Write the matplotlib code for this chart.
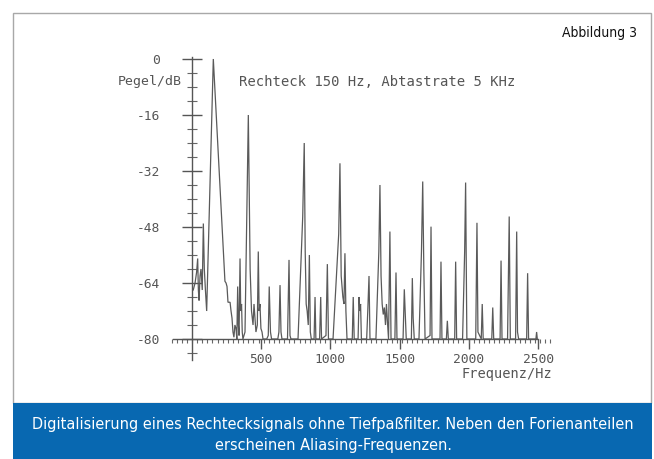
import matplotlib
matplotlib.use("Agg")
import matplotlib.pyplot as plt
from matplotlib.patches import Rectangle
from matplotlib.ticker import FixedLocator, MultipleLocator

# spectrum trace (vertices of the plotted polyline)
freq_hz = [9, 22, 33, 41, 46, 51, 58, 65, 74, 82, 89, 97, 106, 154,
           238, 246, 253, 260, 275, 282, 289, 296, 303, 310, 318, 324,
           330, 335, 340, 347, 352, 358, 363, 368, 383, 407, 420, 430,
           441, 448, 455, 462, 472, 479, 485, 491, 498, 506, 513, 540,
           551, 558, 563, 567, 575, 620, 628, 636, 643, 650, 690, 701,
           708, 715, 766, 800, 811, 818, 825, 832, 840, 848, 855, 862,
           882, 889, 895, 922, 930, 936, 968, 978, 986, 1019, 1060, 1069,
           1078, 1090, 1098, 1105, 1112, 1120, 1158, 1165, 1172, 1200,
           1207, 1212, 1218, 1224, 1262, 1270, 1279, 1286, 1329, 1350,
           1358, 1366, 1374, 1382, 1390, 1398, 1405, 1412, 1420, 1430,
           1438, 1466, 1474, 1481, 1525, 1534, 1540, 1548, 1585, 1592,
           1598, 1606, 1640, 1658, 1667, 1675, 1684, 1720, 1727, 1734,
           1792, 1799, 1806, 1838, 1845, 1852, 1898, 1905, 1912, 1955,
           1970, 1977, 1986, 2050, 2059, 2066, 2090, 2097, 2104, 2166,
           2173, 2180, 2226, 2233, 2240, 2280, 2292, 2300, 2338, 2346,
           2352, 2360, 2418, 2425, 2432, 2485, 2490, 2495]
level_db = [-66, -64, -61, -57, -66, -69, -62, -60, -66, -47, -60, -66, -72, 0,
            -63.5, -64, -65, -69.5, -69.5, -72, -74, -78, -79.5, -76, -77, -80,
            -65, -76, -79, -57, -72, -70, -78, -80, -78, -16, -60, -72,
            -76, -70, -74, -78, -76, -55, -72, -70, -77, -78, -80, -80,
            -79, -65, -72, -78, -80, -80, -78, -64.6, -78, -80, -80, -57.4,
            -79, -80, -80, -45, -24, -55, -70, -72, -76, -56, -78, -80,
            -80, -68, -80, -80, -68, -80, -79, -58.6, -80, -80, -50, -29.8,
            -62, -68, -70, -55.5, -72, -80, -80, -68, -80, -80,
            -68, -72, -70, -80, -80, -72, -62, -80, -80, -55,
            -36, -62, -70, -73, -71, -76, -70, -75, -80, -49.3,
            -80, -80, -61, -80, -80, -65.8, -72, -80, -80, -62.6,
            -74, -80, -80, -55, -35, -60, -80, -79, -47.9, -80,
            -80, -57.9, -80, -80, -74.8, -80, -80, -57.9, -80, -80,
            -55, -35.3, -80, -80, -46.8, -78, -80, -70, -80, -80,
            -71, -80, -80, -57.6, -80, -80, -45, -80, -80, -49.3,
            -78, -80, -80, -61.2, -80, -80, -78, -80]

x_ticks = [500, 1000, 1500, 2000, 2500]
x_tick_labels = ["500", "1000", "1500", "2000", "2500"]
y_ticks = [-80, -64, -48, -32, -16, 0]
y_tick_labels = ["-80", "-64", "-48", "-32", "-16", "0"]

plot_title = "Rechteck 150 Hz, Abtastrate 5 KHz"
y_title = "Pegel/dB"
x_title = "Frequenz/Hz"
figure_tag = "Abbildung 3"
caption = ("Digitalisierung eines Rechtecksignals ohne Tiefpaßfilter. Neben den Forienanteilen\n"
           "erscheinen Aliasing-Frequenzen.")

W, H = 654, 459
trace_col = "#5a5a5a"
text_col = "#555555"
plotter_font = "DejaVu Sans Mono"


def fx(px):
    return px / W


def fy(py):
    return 1 - py / H


fig = plt.figure(figsize=(W / 100, H / 100), dpi=100)
fig.patch.set_facecolor("white")

# frame and caption box
fig.patches.append(Rectangle((fx(12.5), fy(403)), fx(650.5) - fx(12.5), fy(12.5) - fy(403),
                             transform=fig.transFigure, fill=False, edgecolor="#a8a8a8", lw=1.0))
fig.patches.append(Rectangle((fx(13), 0), fx(652) - fx(13), fy(403),
                             transform=fig.transFigure, facecolor="#0868b1", edgecolor="none"))

# axes placed so that 0 Hz -> x=192px, 2500 Hz -> x=538px, 0 dB -> y=59px, -80 dB -> y=339px
xmin, xmax = -160, 2600
ymin, ymax = -87, 2
sx = (538 - 192) / 2500
sy = (339 - 59) / 80
left = 192 + xmin * sx
right = 192 + xmax * sx
top = 59 - ymax * sy
bottom = 59 - ymin * sy
ax = fig.add_axes([fx(left), fy(bottom), (right - left) / W, (bottom - top) / H])
ax.set_xlim(xmin, xmax)
ax.set_ylim(ymin, ymax)
ax.patch.set_alpha(0)

ax.plot(freq_hz, level_db, color=trace_col, lw=0.9, solid_joinstyle="miter")

for s in ["top", "right"]:
    ax.spines[s].set_visible(False)
ax.spines["left"].set_position(("data", 0))
ax.spines["bottom"].set_position(("data", -80))
ax.spines["left"].set_bounds(-86, 0.5)
ax.spines["bottom"].set_bounds(-140, 2500)
for s in ["left", "bottom"]:
    ax.spines[s].set_color("#555555")
    ax.spines[s].set_linewidth(1.0)

ax.xaxis.set_major_locator(FixedLocator(x_ticks))
ax.set_xticklabels(x_tick_labels)
ax.xaxis.set_minor_locator(MultipleLocator(37))
ax.yaxis.set_major_locator(FixedLocator(y_ticks))
ax.set_yticklabels(y_tick_labels)
ax.yaxis.set_minor_locator(MultipleLocator(4))

ax.tick_params(axis="x", which="major", direction="out", length=7, width=1, color="#555555",
               pad=3, labelsize=9.3, labelcolor=text_col)
ax.tick_params(axis="x", which="minor", direction="out", length=3, width=0.8, color="#666666")
ax.tick_params(axis="y", which="major", direction="inout", length=14, width=1, color="#555555",
               pad=16, labelsize=9.3, labelcolor=text_col)
ax.tick_params(axis="y", which="minor", direction="inout", length=7, width=0.8, color="#666666")
for lab in ax.get_xticklabels() + ax.get_yticklabels():
    lab.set_family(plotter_font)

# plotter-style texts
fig.text(fx(182), fy(81), y_title, ha="right", va="center", family=plotter_font,
         fontsize=9.5, color=text_col)
fig.text(fx(239), fy(82), plot_title, ha="left", va="center", family=plotter_font,
         fontsize=10, color=text_col)
fig.text(fx(552), fy(374), x_title, ha="right", va="center", family=plotter_font,
         fontsize=9.8, color=text_col)

fig.text(fx(637), fy(33), figure_tag, ha="right", va="center", family="DejaVu Sans",
         fontstretch="condensed", fontsize=10, color="#111111")
fig.text(fx(333), fy(435), caption, ha="center", va="center", family="DejaVu Sans",
         fontstretch="condensed", fontsize=11.6, color="white", linespacing=1.45)

fig.savefig("out.png", dpi=100)
